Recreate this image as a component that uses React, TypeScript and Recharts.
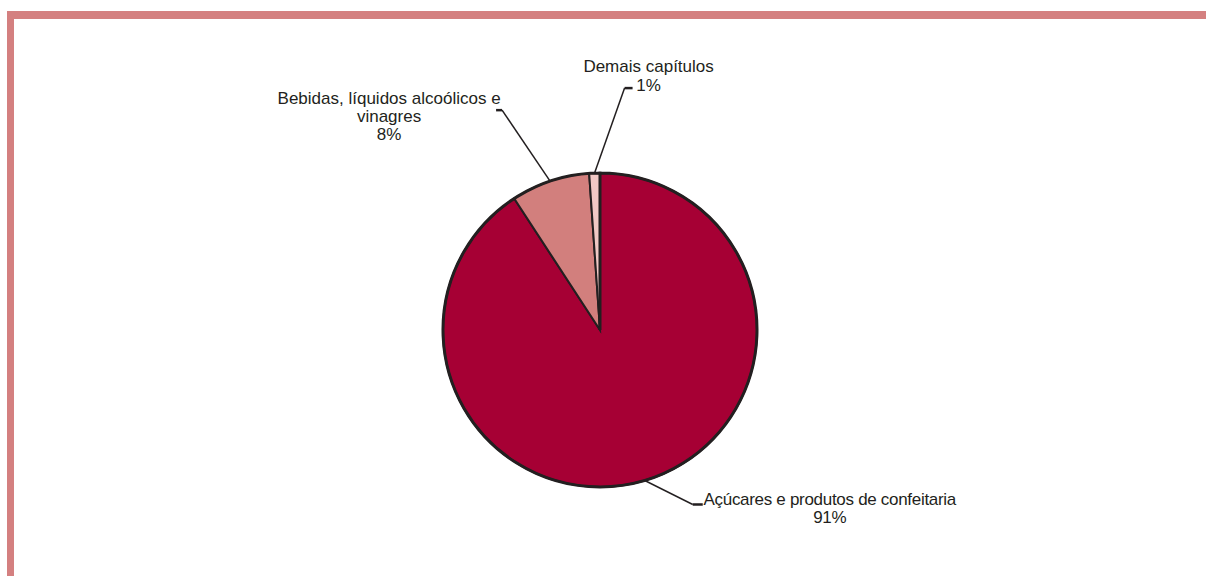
import React from "react";
import { PieChart, Pie, Cell } from "recharts";

const categories = [
  "Açúcares e produtos de confeitaria",
  "Bebidas, líquidos alcoólicos e vinagres",
  "Demais capítulos",
];
const shares = [90.8, 8.1, 1.1];
const percentLabels = ["91%", "8%", "1%"];
const labelLines = [
  ["Açúcares e produtos de confeitaria"],
  ["Bebidas, líquidos alcoólicos e", "vinagres"],
  ["Demais capítulos"],
];
const colors = ["#A60034", "#D27F7D", "#F1C8C5"];

const data = categories.map((name, i) => ({ name, value: shares[i] }));
const outline = [{ name: "total", value: shares.reduce((a, b) => a + b, 0) }];

// leader layout per slice: elbow offset from slice edge, tick direction, text offset from elbow
const leaderLayout = [
  { ex: 48, ey: 24, tick: 10, tx: 137, ty: 1, lh: 18, ls: -0.3 },
  { ex: -48, ey: -71, tick: -6, tx: -113, ty: -6, lh: 18, ls: 0 },
  { ex: 30, ey: -85, tick: 8, tx: 24, ty: -16, lh: 19, ls: 0 },
];

const RAD = Math.PI / 180;
const ink = "#231F20";

const renderLabel = (props: any) => {
  const { cx, cy, midAngle, outerRadius, index } = props;
  const L = leaderLayout[index];
  const sx = cx + outerRadius * Math.cos(-midAngle * RAD);
  const sy = cy + outerRadius * Math.sin(-midAngle * RAD);
  const mx = sx + L.ex;
  const my = sy + L.ey;
  const lines = [...labelLines[index], percentLabels[index]];
  return (
    <g>
      <line x1={sx} y1={sy} x2={mx} y2={my} stroke={ink} strokeWidth={1.5} />
      <line x1={mx} y1={my} x2={mx + L.tick} y2={my} stroke={ink} strokeWidth={2.5} />
      <text
        x={mx + L.tx}
        y={my + L.ty}
        textAnchor="middle"
        fill={ink}
        fontFamily="'Liberation Sans', Arial, sans-serif"
        fontSize={17}
        letterSpacing={L.ls}
      >
        {lines.map((t, i) => (
          <tspan key={i} x={mx + L.tx} dy={i === 0 ? 0 : L.lh}>
            {t}
          </tspan>
        ))}
      </text>
    </g>
  );
};

export default function App() {
  return (
    <div style={{ position: "absolute", left: 0, top: 0, width: 1206, height: 576, background: "#fff", overflow: "hidden" }}>
      <div
        style={{
          position: "absolute",
          left: 7,
          top: 11,
          width: 1206,
          height: 576,
          borderTop: "8px solid #D48080",
          borderLeft: "7px solid #D48080",
          boxSizing: "border-box",
        }}
      />
      <div style={{ position: "absolute", left: 0, top: 0 }}>
        <PieChart width={1206} height={576} margin={{ top: 0, right: 0, bottom: 0, left: 0 }}>
          <Pie
            data={data}
            dataKey="value"
            nameKey="name"
            cx={600}
            cy={330}
            outerRadius={157}
            startAngle={90}
            endAngle={-270}
            stroke={ink}
            strokeWidth={2}
            label={renderLabel}
            labelLine={false}
            isAnimationActive={false}
          >
            {data.map((d, i) => (
              <Cell key={d.name} fill={colors[i]} />
            ))}
          </Pie>
          <Pie
            data={outline}
            dataKey="value"
            cx={600}
            cy={330}
            outerRadius={157}
            startAngle={90}
            endAngle={-270}
            fill="none"
            stroke={ink}
            strokeWidth={3}
            isAnimationActive={false}
          />
        </PieChart>
      </div>
    </div>
  );
}
